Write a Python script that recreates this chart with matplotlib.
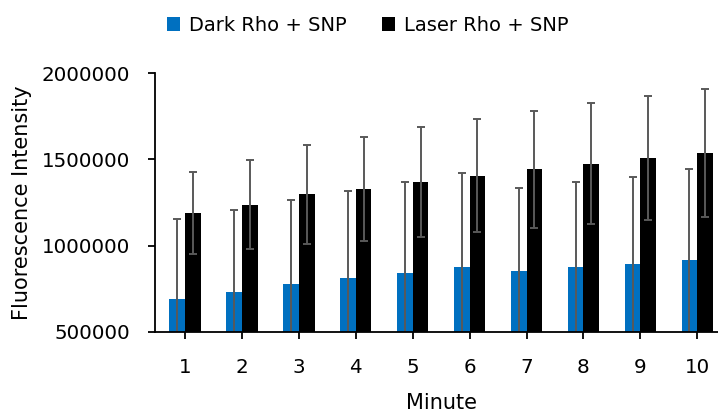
import matplotlib
matplotlib.use("Agg")
import matplotlib.pyplot as plt
import numpy as np
from matplotlib.patches import Patch

plt.rcParams['font.family'] = ['DejaVu Sans']

minutes = ["1", "2", "3", "4", "5", "6", "7", "8", "9", "10"]
dark = [688000, 729000, 777000, 812000, 843000, 874000, 851000, 874000, 891000, 915000]
dark_err = [466000, 479000, 486000, 505000, 526000, 546000, 485000, 497000, 509000, 530000]
laser = [1189000, 1238000, 1298000, 1327000, 1369000, 1406000, 1443000, 1476000, 1507000, 1538000]
laser_err = [240000, 258000, 288000, 303000, 320000, 329000, 340000, 350000, 361000, 370000]
yticks = [500000, 1000000, 1500000, 2000000]

W, H = 718, 412
fig = plt.figure(figsize=(W / 100, H / 100), dpi=100)
ax = fig.add_axes([155 / W, (H - 331.7) / H, (725.8 - 155) / W, (331.7 - 73.3) / H])

x = np.arange(1, len(minutes) + 1)
bw = 0.276
blue = "#0070C0"
errc = "#595959"

ax.bar(x - bw / 2, dark, width=bw, color=blue, zorder=2)
ax.bar(x + bw / 2, laser, width=bw, color="black", zorder=2)

# symmetric SD bars; the lower whiskers of the dark series run below the axis floor
ax.errorbar(x - bw / 2, dark, yerr=dark_err, fmt="none",
            ecolor=errc, elinewidth=1.4, capsize=2.8, capthick=1.4, zorder=3)
ax.errorbar(x + bw / 2, laser, yerr=laser_err, fmt="none",
            ecolor=errc, elinewidth=1.4, capsize=2.8, capthick=1.4, zorder=3)

ax.set_xlim(0.473, 10.5)
ax.set_ylim(500000, 2000000)
ax.set_yticks(yticks)
ax.set_yticklabels([str(v) for v in yticks])
ax.set_xticks(x)
ax.set_xticklabels(minutes)

for s in ("top", "right"):
    ax.spines[s].set_visible(False)
for s in ("left", "bottom"):
    ax.spines[s].set_linewidth(1.3)
    ax.spines[s].set_color("black")
    ax.spines[s].set_zorder(4)

ax.tick_params(axis="y", direction="out", length=5, width=1.3, pad=13, labelsize=14.3)
ax.tick_params(axis="x", direction="out", length=5, width=1.3, pad=14, labelsize=14.3)

fig.text(22.5 / W, (H - 203) / H, "Fluorescence Intensity", rotation=90,
         ha="center", va="center", fontsize=15)
fig.text(441 / W, (H - 409.3) / H, "Minute", ha="center", va="baseline", fontsize=15)

handles = [Patch(facecolor=blue, label="Dark Rho + SNP"),
           Patch(facecolor="black", label="Laser Rho + SNP")]
fig.legend(handles=handles, loc="center", bbox_to_anchor=(368 / W, (H - 25.5) / H),
           ncol=2, frameon=False, fontsize=14, handlelength=0.69, handleheight=0.74,
           handletextpad=0.46, columnspacing=1.8, borderpad=0, borderaxespad=0)

fig.savefig("out.png", dpi=100)
